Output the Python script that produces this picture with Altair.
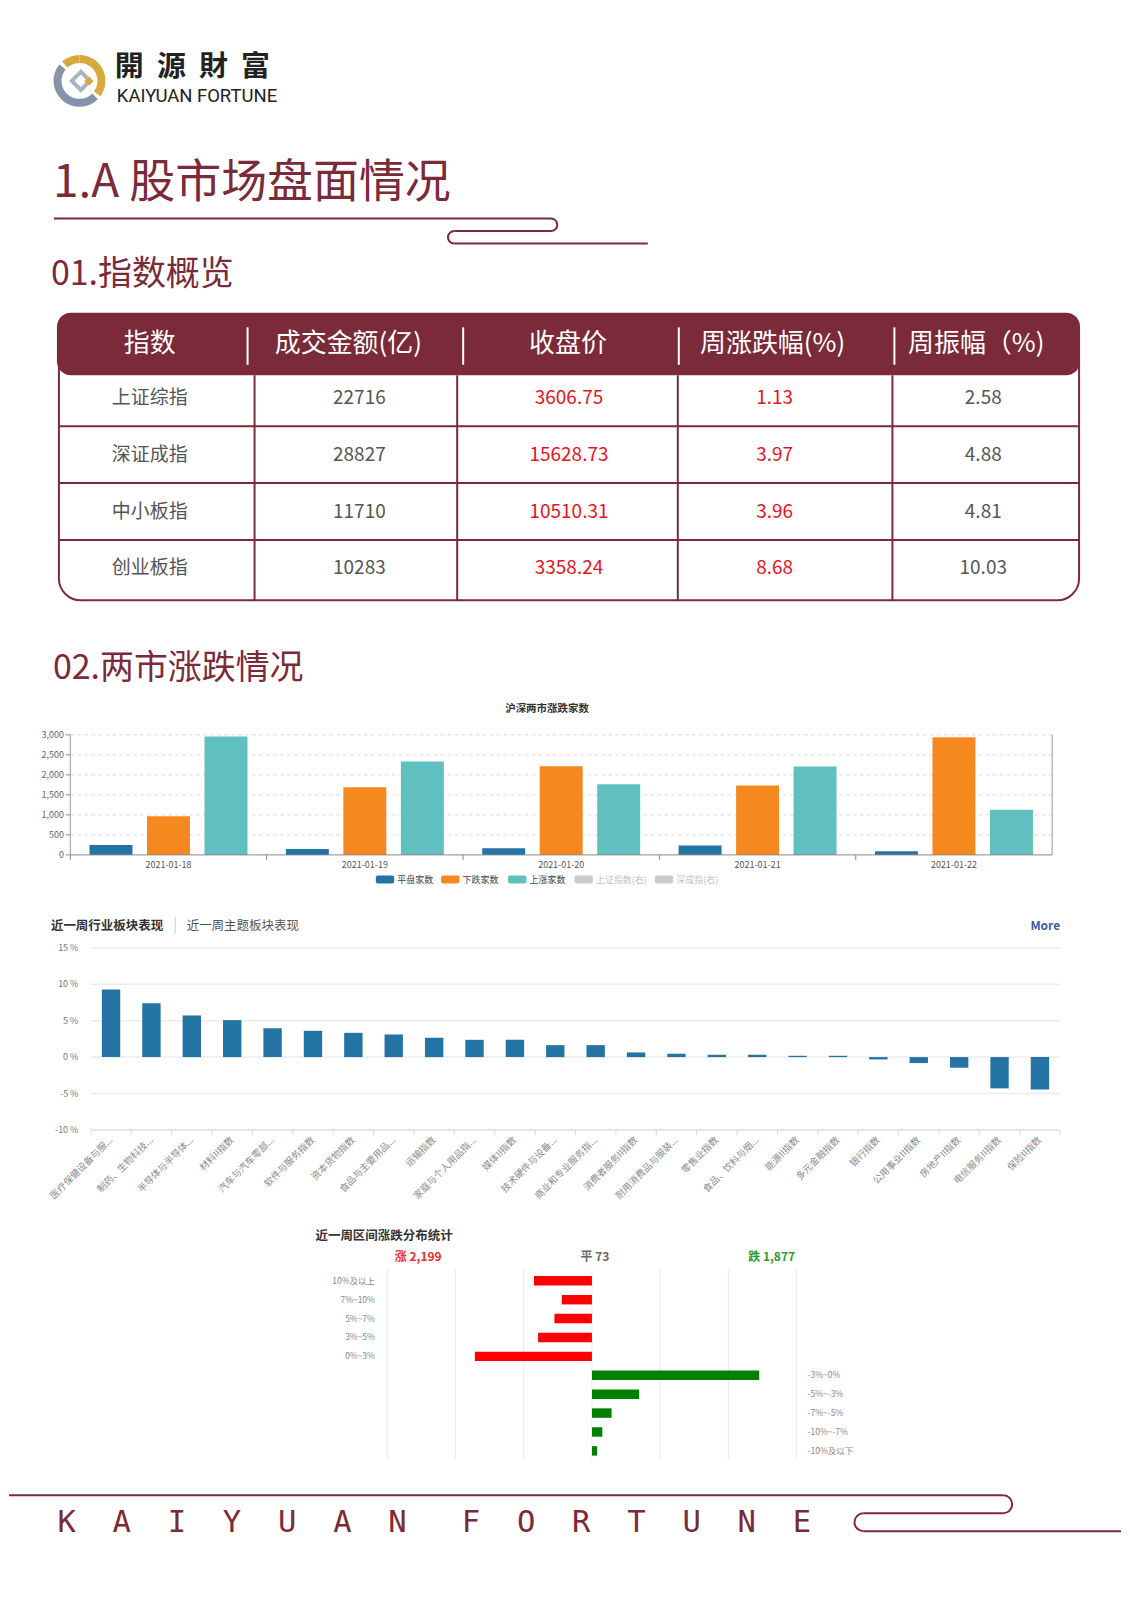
import math
import altair as alt
import pandas as pd

# ---------------- data ----------------
NB2 = "\u00a0\u00a0"
brand_cn = NB2.join("開源財富")
brand_en = "KAIYUAN\u00a0FORTUNE"
page_title = "1.A 股市场盘面情况"
section1 = "01.指数概览"
section2 = "02.两市涨跌情况"
footer_text = "\u00a0\u00a0".join("KAIYUAN") + "\u00a0\u00a0\u00a0" + "\u00a0\u00a0".join("FORTUNE")

table_header = ["指数", "成交金额(亿)", "收盘价", "周涨跌幅(%)", "周振幅（%)"]
index_names = ["上证综指", "深证成指", "中小板指", "创业板指"]
turnover = [22716, 28827, 11710, 10283]
close_price = [3606.75, 15628.73, 10510.31, 3358.24]
week_change = [1.13, 3.97, 3.96, 8.68]
week_amplitude = [2.58, 4.88, 4.81, 10.03]

c1_title = "沪深两市涨跌家数"
dates = ["2021-01-18", "2021-01-19", "2021-01-20", "2021-01-21", "2021-01-22"]
series1 = ["平盘家数", "下跌家数", "上涨家数"]
flat_cnt = [250, 150, 167, 233, 92]
down_cnt = [967, 1691, 2217, 1733, 2942]
up_cnt = [2958, 2333, 1767, 2208, 1125]
legend1 = ["平盘家数", "下跌家数", "上涨家数", "上证指数(右)", "深成指(右)"]
c1_ticks = [0, 500, 1000, 1500, 2000, 2500, 3000]

c2_tab1 = "近一周行业板块表现"
c2_tab2 = "近一周主题板块表现"
c2_more = "More"
sectors = ["医疗保健设备与服...", "制药、生物科技...", "半导体与半导体...", "材料II指数",
           "汽车与汽车零部...", "软件与服务指数", "资本货物指数", "食品与主要用品...",
           "运输指数", "家庭与个人用品指...", "媒体II指数", "技术硬件与设备...",
           "商业和专业服务指...", "消费者服务II指数", "耐用消费品与服装...", "零售业指数",
           "食品、饮料与烟...", "能源II指数", "多元金融指数", "银行指数",
           "公用事业II指数", "房地产II指数", "电信服务II指数", "保险II指数"]
sector_chg = [9.27, 7.40, 5.71, 5.07, 3.97, 3.61, 3.33, 3.10, 2.65, 2.37, 2.37, 1.64,
              1.64, 0.64, 0.46, 0.32, 0.32, 0.18, 0.18, -0.32, -0.82, -1.46, -4.29, -4.43]
c2_ticks = [-10, -5, 0, 5, 10, 15]

c3_title = "近一周区间涨跌分布统计"
dist_up_labels = ["10%及以上", "7%~10%", "5%~7%", "3%~5%", "0%~3%"]
dist_up = [425, 221, 275, 395, 858]
dist_down_labels = ["-3%~0%", "-5%~-3%", "-7%~-5%", "-10%~-7%", "-10%及以下"]
dist_down = [1226, 346, 144, 76, 38]
up_total, flat_total, down_total = 2199, 73, 1877
c3_ticks = [-1500, -1000, -500, 0, 500, 1000, 1500]

# ---------------- style ----------------
FONT = "Noto Sans CJK SC"
MAROON = "#7b2a3a"
W, H = 1114, 1584
one = pd.DataFrame({"k": [0]})


def dummy():
    return alt.Chart(one)


def hline(x1, x2, y, color=MAROON, width=2):
    return dummy().mark_rule(color=color, strokeWidth=width).encode(
        x=alt.value(x1), x2=alt.value(x2), y=alt.value(y))


def vline(x, y1, y2, color=MAROON, width=2):
    return dummy().mark_rule(color=color, strokeWidth=width).encode(
        x=alt.value(x), y=alt.value(y1), y2=alt.value(y2))


def arc(cx, cy, r_out, r_in, t1, t2, color):
    return dummy().mark_arc(color=color).encode(
        x=alt.value(cx), y=alt.value(cy),
        radius=alt.value(r_out), radius2=alt.value(r_in),
        theta=alt.value(t1), theta2=alt.value(t2))


def cap(cx, cy, r, side, color=MAROON, width=2):
    t1, t2 = (0, math.pi) if side == "right" else (math.pi, 2 * math.pi)
    return arc(cx, cy, r + width / 2, r - width / 2, t1, t2, color)


def label(text, x, y, size, color, weight="normal", align="left",
          baseline="middle", font=FONT):
    return dummy().mark_text(text=text, fontSize=size, color=color, fontWeight=weight,
                             align=align, baseline=baseline, font=font).encode(
        x=alt.value(x), y=alt.value(y))


layers = []

# ---------------- header ----------------
layers += [
    arc(70.6, 71.6, 26, 18, 0, 2.2, "#d6aa3f"),
    arc(70.6, 71.6, 26, 18, 5.55, 2 * math.pi, "#d6aa3f"),
    arc(70.6, 71.6, 26, 18, 2.35, 5.4, "#8594ab"),
    dummy().mark_point(shape="diamond", size=330, filled=False, stroke="#8594ab",
                       strokeWidth=4).encode(x=alt.value(72), y=alt.value(71.6)),
    dummy().mark_point(shape="diamond", size=90, filled=True, color="#d6aa3f",
                       opacity=1).encode(x=alt.value(80), y=alt.value(71.6)),
    label(brand_cn, 106, 67, 29, "#222", weight="bold", baseline="alphabetic"),
    label(brand_en, 108, 93, 18.5, "#222", weight="normal", baseline="alphabetic",
          font="Roboto"),
    label(page_title, 44, 188, 46, MAROON, baseline="alphabetic"),
    hline(45, 543, 209.5),
    cap(543, 215.75, 6.25, "right"),
    hline(446, 543, 222),
    cap(446, 228.25, 6.25, "left"),
    hline(446, 640, 234.5),
    label(section1, 42, 276, 34, MAROON, baseline="alphabetic"),
]

# ---------------- table ----------------
tbl_df = pd.DataFrame({"row": index_names, "turnover": turnover, "close": close_price,
                       "chg": week_change, "amp": week_amplitude})
TY = alt.Scale(type="point", domain=index_names, range=[389, 560], padding=0)

table_layers = [
    dummy().mark_rect(fillOpacity=0, stroke=MAROON, strokeWidth=2, cornerRadius=22).encode(
        x=alt.value(50), x2=alt.value(1072), y=alt.value(330), y2=alt.value(592)),
    dummy().mark_rect(color=MAROON, cornerRadius=14).encode(
        x=alt.value(48), x2=alt.value(1073), y=alt.value(304), y2=alt.value(366.5)),
]
for xv in [239, 455, 671, 887]:
    table_layers.append(vline(xv, 318.5, 356, color="white", width=2))
for xv in [246, 449, 670, 885]:
    table_layers.append(vline(xv, 366.5, 592, width=2))
table_layers.append(
    alt.Chart(tbl_df).transform_filter(alt.datum.row != index_names[0])
    .mark_rule(color=MAROON, strokeWidth=2, yOffset=-28.5)
    .encode(y=alt.Y("row:N", scale=TY, axis=None), x=alt.value(50), x2=alt.value(1072)))

head_x = [141, 340, 560, 765, 969]
for txt, xv in zip(table_header, head_x):
    table_layers.append(label(txt, xv, 335, 26, "white", align="center"))

body_x = [141, 351, 561, 767, 976]
body_cols = [("row", None, "#555555"), ("turnover", "d", "#555555"),
             ("close", ".2f", "#e8141c"), ("chg", ".2f", "#e8141c"),
             ("amp", ".2f", "#555555")]
for (field, fmt, col), xv in zip(body_cols, body_x):
    if fmt is None:
        txt = alt.Text(f"{field}:N")
    else:
        txt = alt.Text(f"{field}:Q", format=fmt)
    table_layers.append(
        alt.Chart(tbl_df).mark_text(font=FONT, fontSize=19, color=col, align="center",
                                    baseline="middle")
        .encode(y=alt.Y("row:N", scale=TY, axis=None), x=alt.value(xv), text=txt))
layers.append(alt.layer(*table_layers))

layers.append(label(section2, 44, 671, 34, MAROON, baseline="alphabetic"))

# ---------------- chart 1 ----------------
df1 = pd.DataFrame({"date": dates * 3,
                    "series": [s for s in series1 for _ in dates],
                    "value": flat_cnt + down_cnt + up_cnt})
tick1 = pd.DataFrame({"t": c1_ticks})
colors1 = ["#2473a5", "#f5891f", "#60bfbf"]
X1 = alt.Scale(domain=dates, range=[61.4, 1045], paddingInner=0, paddingOuter=0)
Y1 = alt.Scale(domain=[0, 3000], range=[847, 726.7], nice=False, zero=False)
d1 = pd.DataFrame({"date": dates})

c1 = [
    alt.Chart(tick1).transform_filter(alt.datum.t > 0)
    .mark_rule(color="#dcdcdc", strokeDash=[4, 3], strokeWidth=1)
    .encode(y=alt.Y("t:Q", scale=Y1, axis=None), x=alt.value(61.4), x2=alt.value(1045)),
    alt.Chart(df1).mark_bar().encode(
        x=alt.X("date:N", scale=X1, axis=None),
        xOffset=alt.XOffset("series:N", scale=alt.Scale(domain=series1, paddingInner=0.253,
                                                         paddingOuter=0.334)),
        y=alt.Y("value:Q", scale=Y1, axis=None),
        y2=alt.datum(0),
        color=alt.Color("series:N", scale=alt.Scale(domain=series1, range=colors1),
                        legend=None)),
    alt.Chart(tick1).mark_text(font=FONT, fontSize=9, color="#666", align="right",
                               baseline="middle")
    .encode(y=alt.Y("t:Q", scale=Y1, axis=None), x=alt.value(55),
            text=alt.Text("t:Q", format=",")),
    alt.Chart(tick1).mark_rule(color="#888", strokeWidth=1)
    .encode(y=alt.Y("t:Q", scale=Y1, axis=None), x=alt.value(57), x2=alt.value(61.4)),
    alt.Chart(d1).mark_rule(color="#888", strokeWidth=1)
    .encode(x=alt.X("date:N", scale=X1, axis=None, bandPosition=0),
            y=alt.value(847), y2=alt.value(852)),
    alt.Chart(d1).mark_text(font=FONT, fontSize=9, color="#555", baseline="middle")
    .encode(x=alt.X("date:N", scale=X1, axis=None), y=alt.value(857),
            text="date:N"),
]
layers.append(alt.layer(*c1))
layers += [
    vline(61.4, 726.7, 847, color="#999", width=1),
    vline(1045, 726.7, 847, color="#999", width=1),
    hline(61.4, 1045, 847, color="#888", width=1),
    label(c1_title, 539, 701, 10.5, "#333", weight="bold", align="center"),
]
leg_sw = [367.5, 432.8, 500, 566.5, 647]
leg_col = colors1 + ["#cccccc", "#cccccc"]
leg_txt_col = ["#444", "#444", "#444", "#c4c4c4", "#c4c4c4"]
for name, xs, sc, tc in zip(legend1, leg_sw, leg_col, leg_txt_col):
    layers.append(dummy().mark_rect(color=sc, cornerRadius=2).encode(
        x=alt.value(xs), x2=alt.value(xs + 18.4), y=alt.value(867.6), y2=alt.value(875.6)))
    layers.append(label(name, xs + 21.5, 871.8, 9, tc))

# ---------------- chart 2 ----------------
df2 = pd.DataFrame({"name": sectors, "chg": sector_chg})
tick2 = pd.DataFrame({"t": c2_ticks})
X2 = alt.Scale(domain=sectors, range=[82, 1053], paddingInner=0.545, paddingOuter=0.2725)
Y2 = alt.Scale(domain=[-10, 15], range=[1122.6, 940], nice=False, zero=False)
step2 = (1053 - 82) / len(sectors)
c2 = [
    alt.Chart(tick2).transform_filter(alt.datum.t > -10)
    .mark_rule(color="#ececec", strokeWidth=1.5)
    .encode(y=alt.Y("t:Q", scale=Y2, axis=None), x=alt.value(82), x2=alt.value(1053)),
    alt.Chart(tick2).transform_calculate(lab="datum.t + ' %'")
    .mark_text(font=FONT, fontSize=9, color="#777", align="right", baseline="middle")
    .encode(y=alt.Y("t:Q", scale=Y2, axis=None), x=alt.value(69.5), text="lab:N"),
    alt.Chart(df2).mark_bar(color="#2473a5").encode(
        x=alt.X("name:N", scale=X2, axis=None, sort=None),
        y=alt.Y("chg:Q", scale=Y2, axis=None), y2=alt.datum(0)),
    alt.Chart(df2).mark_rule(color="#d8dce8", strokeWidth=1, xOffset=-step2 / 2)
    .encode(x=alt.X("name:N", scale=X2, axis=None, sort=None),
            y=alt.value(1122.6), y2=alt.value(1128)),
    alt.Chart(df2).mark_text(font=FONT, fontSize=9.5, color="#8a8a8a", align="right",
                             baseline="middle", angle=315)
    .encode(x=alt.X("name:N", scale=X2, axis=None, sort=None), y=alt.value(1131),
            text="name:N"),
]
layers.append(alt.layer(*c2))
layers += [
    hline(82, 1053, 1122.6, color="#d8dce8", width=1.5),
    vline(1053, 1122.6, 1128, color="#d8dce8", width=1),
    label(c2_tab1, 42, 918, 12.5, "#333", weight="bold"),
    vline(166.5, 909, 926, color="#cccccc", width=1),
    label(c2_tab2, 178, 918, 12.5, "#555"),
    label(c2_more, 1053, 918, 12, "#3d5ca8", weight="bold", align="right"),
]

# ---------------- chart 3 ----------------
rows3 = dist_up_labels + dist_down_labels
df3 = pd.DataFrame({"label": rows3, "count": dist_up + dist_down,
                    "side": ["up"] * len(dist_up) + ["down"] * len(dist_down)})
tick3 = pd.DataFrame({"t": c3_ticks})
X3 = alt.Scale(domain=[-1500, 1500], range=[379, 789], nice=False, zero=False)
Y3 = alt.Scale(domain=rows3, range=[1264.2, 1453.5], paddingInner=0.5, paddingOuter=0.25)
c3 = [
    alt.Chart(tick3).mark_rule(color="#ebebeb", strokeWidth=1)
    .encode(x=alt.X("t:Q", scale=X3, axis=None), y=alt.value(1262), y2=alt.value(1453)),
    alt.Chart(df3).transform_calculate(
        signed="datum.side == 'up' ? -datum.count : datum.count")
    .mark_bar().encode(
        x=alt.X("signed:Q", scale=X3, axis=None), x2=alt.datum(0),
        y=alt.Y("label:N", scale=Y3, axis=None, sort=None),
        color=alt.Color("side:N", scale=alt.Scale(domain=["up", "down"],
                                                  range=["#ff0000", "#008000"]),
                        legend=None)),
    alt.Chart(df3).transform_filter(alt.datum.side == "up")
    .mark_text(font=FONT, fontSize=8.5, color="#888", align="right", baseline="middle")
    .encode(y=alt.Y("label:N", scale=Y3, axis=None, sort=None), x=alt.value(366.5),
            text="label:N"),
    alt.Chart(df3).transform_filter(alt.datum.side == "down")
    .mark_text(font=FONT, fontSize=8.5, color="#888", align="left", baseline="middle")
    .encode(y=alt.Y("label:N", scale=Y3, axis=None, sort=None), x=alt.value(800),
            text="label:N"),
]
layers.append(alt.layer(*c3))
layers += [
    label(c3_title, 307, 1229, 12.5, "#333", weight="bold"),
    label(f"涨 {up_total:,}", 410, 1250, 12, "#f52b2b", weight="bold", align="center"),
    label(f"平 {flat_total}", 587, 1250, 12, "#666666", weight="bold", align="center"),
    label(f"跌 {down_total:,}", 764, 1250, 12, "#2e9b2e", weight="bold", align="center"),
]

# ---------------- footer ----------------
layers += [
    hline(0, 996, 1488.5),
    cap(996, 1497.5, 9, "right"),
    hline(856, 996, 1506.5),
    cap(856, 1515.5, 9, "left"),
    hline(856, 1114, 1524.5),
    label(footer_text, 48.5, 1525.5, 30.6, MAROON, baseline="alphabetic",
          font="DejaVu Sans Mono"),
]

chart = (alt.layer(*layers)
         .resolve_scale(x="independent", y="independent", color="independent")
         .properties(width=W, height=H, padding=0, background="white")
         .configure_view(stroke=None))

chart.save("out.html", embed_options={"renderer": "svg", "actions": False})
